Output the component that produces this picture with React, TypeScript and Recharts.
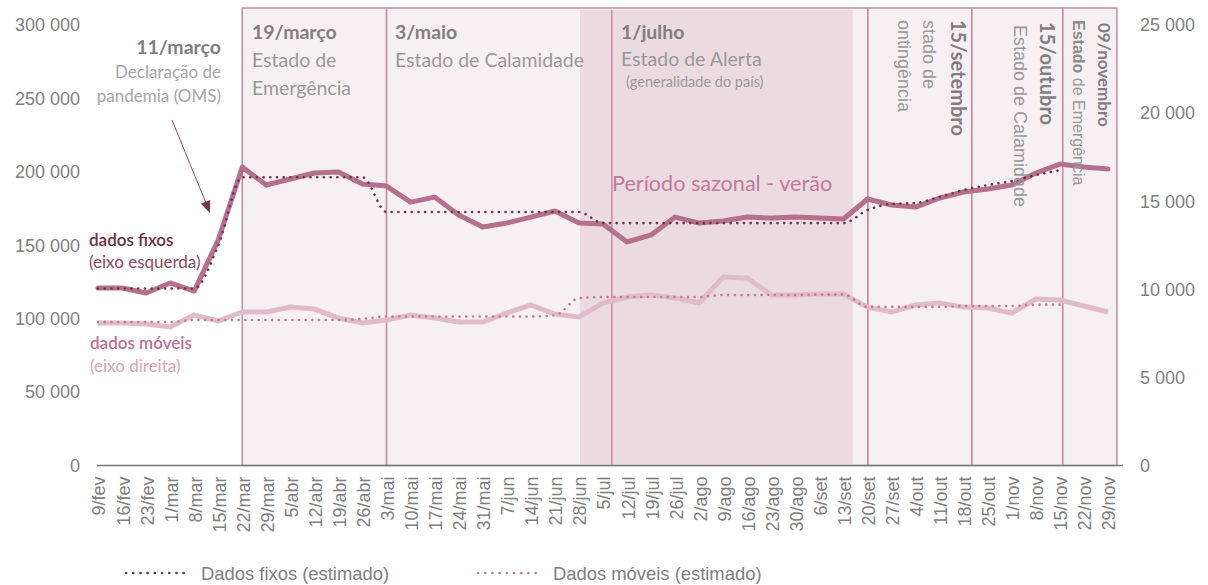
import React from 'react';
import { ComposedChart, Line, XAxis, YAxis, ReferenceArea, Legend } from 'recharts';

const categories = [
  '9/fev', '16/fev', '23/fev', '1/mar', '8/mar', '15/mar', '22/mar', '29/mar', '5/abr', '12/abr',
  '19/abr', '26/abr', '3/mai', '10/mai', '17/mai', '24/mai', '31/mai', '7/jun', '14/jun', '21/jun',
  '28/jun', '5/jul', '12/jul', '19/jul', '26/jul', '2/ago', '9/ago', '16/ago', '23/ago', '30/ago',
  '6/set', '13/set', '20/set', '27/set', '4/out', '11/out', '18/out', '25/out', '1/nov', '8/nov',
  '15/nov', '22/nov', '29/nov',
];

const fixedActual = [
  120900, 120900, 117500, 124300, 118800, 153600, 203300, 191000, 195100, 199200,
  199900, 191700, 190300, 179400, 182800, 170600, 162400, 165100, 169200, 173300,
  165100, 164500, 152200, 157000, 169200, 165100, 166500, 169200, 168500, 169200,
  168500, 167900, 181500, 177400, 176000, 182200, 186300, 188300, 191000, 199200,
  205300, 203300, 201900,
];

const fixedEstimated = [
  120500, 120500, 120500, 120500, 120500, 150000, 196300, 196300, 196300, 196300,
  196300, 196300, 172600, 172600, 172600, 172600, 172600, 172600, 172600, 172600,
  172600, 165100, 165100, 165100, 165100, 165100, 165100, 165100, 165100, 165100,
  165100, 165100, 174000, 178100, 178800, 182900, 187600, 191000, 193700, 197800,
  201200, null, null,
];

const mobileActual = [
  8090, 8090, 8030, 7860, 8540, 8200, 8710, 8710, 8990, 8880,
  8370, 8090, 8260, 8540, 8370, 8140, 8140, 8650, 9110, 8600,
  8430, 9220, 9560, 9680, 9510, 9220, 10700, 10640, 9680, 9680,
  9730, 9730, 8990, 8710, 9110, 9220, 8990, 8940, 8650, 9450,
  9390, 9050, 8710,
];

const mobileEstimated = [
  8140, 8140, 8140, 8140, 8260, 8260, 8260, 8260, 8260, 8260,
  8260, 8320, 8460, 8460, 8460, 8460, 8460, 8460, 8460, 8520,
  9500, 9560, 9560, 9560, 9560, 9560, 9680, 9680, 9680, 9680,
  9700, 9700, 9000, 9000, 9000, 9000, 9050, 9050, 9050, 9130,
  9130, null, null,
];

const leftTicks = [0, 50000, 100000, 150000, 200000, 250000, 300000];
const rightTicks = [0, 5000, 10000, 15000, 20000, 25000];
const seriesNames = ['Dados fixos (estimado)', 'Dados móveis (estimado)'];

// periods (in category-index units) for the annotation boxes
const BOX_TOP = 311500;
const BAND_TOP = 310200;
const periodBoxes = [
  [6, 12],
  [12, 32.02],
  [32.02, 36.34],
  [36.34, 40.12],
  [40.12, 42.37],
];
const summerBand = [20.04, 31.39];
const alertLine = 21.37;

const data = categories.map((c, i) => ({
  idx: i,
  label: c,
  fixed: fixedActual[i],
  fixedEst: fixedEstimated[i],
  mobile: mobileActual[i],
  mobileEst: mobileEstimated[i],
}));

const fmt = (v: number) => String(v).replace(/\B(?=(\d{3})+(?!\d))/g, ' ');

const AXIS_FONT = '"Liberation Sans", Arial, sans-serif';
const NOTE_FONT = 'Lato, "Open Sans", sans-serif';

const XTick = (props: any) => {
  const { x, y, payload } = props;
  const ty = y + 3;
  return (
    <text
      x={x + 1}
      y={ty}
      transform={`rotate(-90, ${x + 1}, ${ty})`}
      textAnchor="end"
      dy="0.36em"
      fontSize={18}
      fill="#808080"
      fontFamily={AXIS_FONT}
    >
      {categories[payload.value]}
    </text>
  );
};

const LegendContent = () => (
  <svg width={1208} height={40} style={{ display: 'block' }}>
    <line x1={126} y1={28} x2={190} y2={28} stroke="#6e3551" strokeWidth={2.6} strokeDasharray="0.1 7.1" strokeLinecap="round" />
    <text x={201} y={28} dy="0.36em" fontSize={18.4} fill="#808080" fontFamily={AXIS_FONT}>{seriesNames[0]}</text>
    <line x1={478} y1={28} x2={542} y2={28} stroke="#c57a96" strokeWidth={2.6} strokeDasharray="0.1 7.1" strokeLinecap="round" />
    <text x={553} y={28} dy="0.36em" fontSize={18.4} fill="#808080" fontFamily={AXIS_FONT}>{seriesNames[1]}</text>
  </svg>
);

const Annotations = () => (
  <svg
    width={1208}
    height={585}
    style={{ position: 'absolute', left: 0, top: 0, pointerEvents: 'none' }}
  >
    {/* 11/março */}
    <text x={221} y={54} textAnchor="end" fontSize={19.5} fontWeight="bold" fill="#7f7f7f" fontFamily={NOTE_FONT}>11/março</text>
    <text x={221} y={78} textAnchor="end" fontSize={17} fill="#a6a6a6" fontFamily={NOTE_FONT}>Declaração de</text>
    <text x={221} y={102} textAnchor="end" fontSize={17} fill="#a6a6a6" fontFamily={NOTE_FONT}>pandemia (OMS)</text>
    <line x1={172} y1={120} x2={206} y2={203} stroke="#8a4a65" strokeWidth={1} />
    <polygon points="210,213 200.9,203.8 210.1,200.0" fill="#7b3653" />

    {/* 19/março */}
    <text x={252} y={39} fontSize={19.5} fontWeight="bold" fill="#7f7f7f" fontFamily={NOTE_FONT}>19/março</text>
    <text x={252} y={67} fontSize={19.5} fill="#999999" fontFamily={NOTE_FONT}>Estado de</text>
    <text x={252} y={95} fontSize={19.5} fill="#999999" fontFamily={NOTE_FONT}>Emergência</text>

    {/* 3/maio */}
    <text x={395} y={39} fontSize={19.5} fontWeight="bold" fill="#7f7f7f" fontFamily={NOTE_FONT}>3/maio</text>
    <text x={395} y={67} fontSize={19.5} fill="#999999" fontFamily={NOTE_FONT}>Estado de Calamidade</text>

    {/* 1/julho */}
    <text x={621} y={39} fontSize={19.5} fontWeight="bold" fill="#7f7f7f" fontFamily={NOTE_FONT}>1/julho</text>
    <text x={621} y={66} fontSize={19.5} fill="#999999" fontFamily={NOTE_FONT}>Estado de Alerta</text>
    <text x={626} y={87} fontSize={14.5} fill="#999999" fontFamily={NOTE_FONT}>(generalidade do país)</text>

    <text x={612} y={191} fontSize={21.6} fill="#c27a99" fontFamily={NOTE_FONT}>Período sazonal - verão</text>

    {/* 15/setembro */}
    <text transform="translate(951,20) rotate(90)" fontSize={20} fontWeight="bold" fill="#7f7f7f" fontFamily={NOTE_FONT}>15/setembro</text>
    <text transform="translate(923,20) rotate(90)" fontSize={18} fill="#999999" fontFamily={AXIS_FONT}>stado de</text>
    <text transform="translate(898,20) rotate(90)" fontSize={18} fill="#999999" fontFamily={AXIS_FONT}>ontingência</text>

    {/* 15/outubro */}
    <text transform="translate(1040,22) rotate(90)" fontSize={20} fontWeight="bold" fill="#7f7f7f" fontFamily={NOTE_FONT}>15/outubro</text>
    <text transform="translate(1014,25) rotate(90)" fontSize={18} fill="#999999" fontFamily={AXIS_FONT}>Estado de Calamidade</text>

    {/* 09/novembro */}
    <text transform="translate(1098,23) rotate(90)" fontSize={17} fontWeight="bold" fill="#7f7f7f" fontFamily={NOTE_FONT}>09/novembro</text>
    <text transform="translate(1073,20) rotate(90)" fontSize={16} fill="#999999" fontFamily={AXIS_FONT}>
      <tspan fontWeight="bold" fill="#8c8c8c">Estado</tspan> de Emergência
    </text>

    {/* series labels */}
    <text x={89} y={246} fontSize={17} fontWeight={600} fill="#6d2d47" fontFamily={NOTE_FONT}>dados fixos</text>
    <text x={89} y={268} fontSize={17} fill="#8c4a66" fontFamily={NOTE_FONT}>(eixo esquerda)</text>
    <text x={90} y={349} fontSize={17} fontWeight={600} fill="#b8718f" fontFamily={NOTE_FONT}>dados móveis</text>
    <text x={90} y={372} fontSize={17} fill="#d9a3ba" fontFamily={NOTE_FONT}>(eixo direita)</text>
  </svg>
);

export default function App() {
  return (
    <div style={{ position: 'absolute', left: 0, top: 0, width: 1208, height: 585, background: '#ffffff' }}>
      <ComposedChart width={1208} height={585} data={data} margin={{ top: 25, right: 0, bottom: 0, left: 0 }}>
        <XAxis
          type="number"
          dataKey="idx"
          domain={[0, categories.length - 1]}
          ticks={categories.map((_, i) => i)}
          interval={0}
          padding={{ left: 1, right: 15 }}
          height={79.5}
          tickLine={false}
          axisLine={{ stroke: '#7a7a7a', strokeWidth: 1.5 }}
          tick={<XTick />}
        />
        <YAxis
          yAxisId="left"
          width={97}
          domain={[0, 300000]}
          ticks={leftTicks}
          tickFormatter={fmt}
          axisLine={false}
          tickLine={false}
          tickSize={0}
          tickMargin={17}
          tick={{ fontSize: 18, fill: '#808080', fontFamily: AXIS_FONT }}
        />
        <YAxis
          yAxisId="right"
          orientation="right"
          width={85}
          domain={[0, 25000]}
          ticks={rightTicks}
          tickFormatter={fmt}
          axisLine={false}
          tickLine={false}
          tickSize={0}
          tickMargin={17}
          tick={{ fontSize: 18, fill: '#808080', fontFamily: AXIS_FONT, textAnchor: 'start' }}
        />
        {periodBoxes.map(([a, b], i) => (
          <ReferenceArea
            key={`box${i}`}
            yAxisId="left"
            x1={a}
            x2={b}
            y1={0}
            y2={BOX_TOP}
            ifOverflow="visible"
            fill="#f7f0f3"
            fillOpacity={1}
            stroke="#c48aa2"
            strokeWidth={1.5}
          />
        ))}
        <ReferenceArea
          yAxisId="left"
          x1={summerBand[0]}
          x2={summerBand[1]}
          y1={0}
          y2={BAND_TOP}
          ifOverflow="visible"
          fill="#ecdae1"
          fillOpacity={1}
        />
        <ReferenceArea
          yAxisId="left"
          x1={alertLine - 0.03}
          x2={alertLine + 0.03}
          y1={0}
          y2={BAND_TOP}
          ifOverflow="visible"
          fill="#c48aa2"
          fillOpacity={1}
        />
        <Line
          yAxisId="right"
          dataKey="mobile"
          type="linear"
          stroke="#e0bccb"
          strokeWidth={5}
          dot={false}
          isAnimationActive={false}
          legendType="none"
        />
        <Line
          yAxisId="right"
          dataKey="mobileEst"
          type="monotone"
          stroke="#c57a96"
          strokeWidth={2.6}
          strokeDasharray="0.1 6.6"
          strokeLinecap="round"
          dot={false}
          connectNulls={false}
          isAnimationActive={false}
        />
        <Line
          yAxisId="left"
          dataKey="fixed"
          type="linear"
          stroke="#b5708c"
          strokeWidth={5}
          strokeLinejoin="round"
          strokeLinecap="round"
          dot={false}
          isAnimationActive={false}
          legendType="none"
        />
        <Line
          yAxisId="left"
          dataKey="fixedEst"
          type="monotone"
          stroke="#6e3551"
          strokeWidth={2.6}
          strokeDasharray="0.1 6.6"
          strokeLinecap="round"
          dot={false}
          connectNulls={false}
          isAnimationActive={false}
        />
        <Legend verticalAlign="bottom" align="left" content={LegendContent} wrapperStyle={{ height: 40 }} />
      </ComposedChart>
      <Annotations />
    </div>
  );
}
